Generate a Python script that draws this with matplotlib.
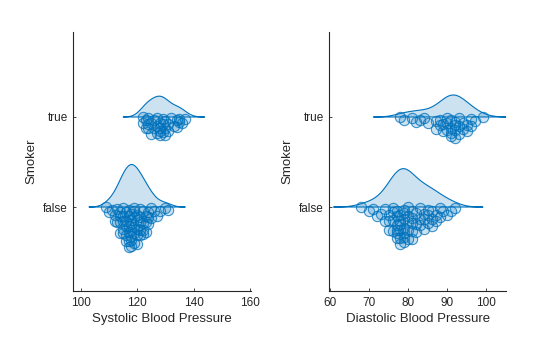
import numpy as np
import matplotlib

matplotlib.use("Agg")
import matplotlib.pyplot as plt  # noqa: E402

plt.rcParams["font.family"] = ["Liberation Sans", "DejaVu Sans"]

# Datos (valores enteros estimados)
categories = ["false", "true"]

systolic_false = (
    [109, 110, 111, 112, 112, 113, 113, 114, 114, 114, 114]
    + [115] * 5 + [116] * 5 + [117] * 6 + [118] * 7 + [119] * 6
    + [120] * 5 + [121] * 5 + [122] * 4 + [123] * 3 + [124] * 3
    + [125, 125, 126, 127, 128, 130, 131]
)
systolic_true = (
    [122] * 2 + [123] * 2 + [124] * 3 + [125] * 2 + [126] * 2 + [127] * 3
    + [128] * 4 + [129] * 3 + [130] * 3 + [131] * 2 + [132, 133]
    + [134] * 2 + [135] * 2 + [136, 137]
)
diastolic_false = (
    [68, 70, 71, 72, 73, 74, 74, 75, 75, 75]
    + [76] * 4 + [77] * 6 + [78] * 6 + [79] * 7 + [80] * 5 + [81] * 5
    + [82] * 3 + [83] * 3 + [84] * 3 + [85] * 3 + [86] * 3 + [87] * 2
    + [88] * 2 + [89, 90, 91, 92]
)
diastolic_true = (
    [78, 79, 81, 82, 83, 84, 85, 87, 87, 88, 88, 89, 89]
    + [90] * 3 + [91] * 4 + [92] * 4 + [93] * 3 + [94] * 2 + [95] * 2
    + [96] * 2 + [97, 99]
)

BLUE = (0.0, 0.447, 0.741)
DENSITY_SCALE = 0.084


def _kde(values):
    """Densidad gaussiana tipo ksdensity (ancho por MAD), escalada por n."""
    x = np.asarray(values, dtype=float)
    n = len(x)
    sig = np.median(np.abs(x - np.median(x))) / 0.6745
    bw = sig * (4.0 / (3.0 * n)) ** 0.2
    grid = np.linspace(x.min() - 3 * bw, x.max() + 3 * bw, 200)

    def dens(t):
        t = np.atleast_1d(t)[:, None]
        return np.exp(-0.5 * ((t - x[None, :]) / bw) ** 2).sum(axis=1) / (bw * np.sqrt(2 * np.pi))

    return grid, dens


def _raincloud(ax, values, pos):
    grid, dens = _kde(values)
    d = dens(grid) * DENSITY_SCALE
    ax.fill(np.r_[grid, grid[::-1]], np.r_[pos + d, np.full_like(d, pos)],
            facecolor=(*BLUE, 0.2), edgecolor=BLUE, linewidth=0.8, zorder=2)

    # nube de puntos hacia abajo, ancho segun la densidad
    x = np.sort(np.asarray(values, dtype=float))
    frac = (np.arange(len(x)) * 0.618034) % 1.0
    y = pos - frac * dens(x) * DENSITY_SCALE
    ax.scatter(x, y, s=55, facecolor=(*BLUE, 0.2), edgecolor=(*BLUE, 0.75),
               linewidth=0.8, zorder=3)


def _style(ax, xlabel, xticks, xlim):
    ax.set_xlim(*xlim)
    ax.set_ylim(0.067, 2.944)
    ax.set_xticks(xticks)
    ax.set_yticks([1, 2])
    ax.set_yticklabels(categories)
    ax.set_xlabel(xlabel, fontsize=9.5, color="0.15", labelpad=3)
    ax.set_ylabel("Smoker", fontsize=9.5, color="0.15", labelpad=4)
    for side in ("top", "right"):
        ax.spines[side].set_visible(False)
    for side in ("left", "bottom"):
        ax.spines[side].set_color("0.15")
        ax.spines[side].set_linewidth(0.8)
    ax.tick_params(direction="in", length=2.5, width=0.6, colors="0.15",
                   labelsize=8.5, pad=4)


fig = plt.figure(figsize=(5.6, 3.37), dpi=100)
ax1 = fig.add_axes([0.131, 0.1365, 0.317, 0.7685])
ax2 = fig.add_axes([0.588, 0.1365, 0.3155, 0.7685])

_raincloud(ax1, systolic_false, 1)
_raincloud(ax1, systolic_true, 2)
_raincloud(ax2, diastolic_false, 1)
_raincloud(ax2, diastolic_true, 2)

_style(ax1, "Systolic Blood Pressure", [100, 120, 140, 160], (97.4, 160.3))
_style(ax2, "Diastolic Blood Pressure", [60, 70, 80, 90, 100], (59.8, 105))

fig.savefig("out.png", dpi=100)
